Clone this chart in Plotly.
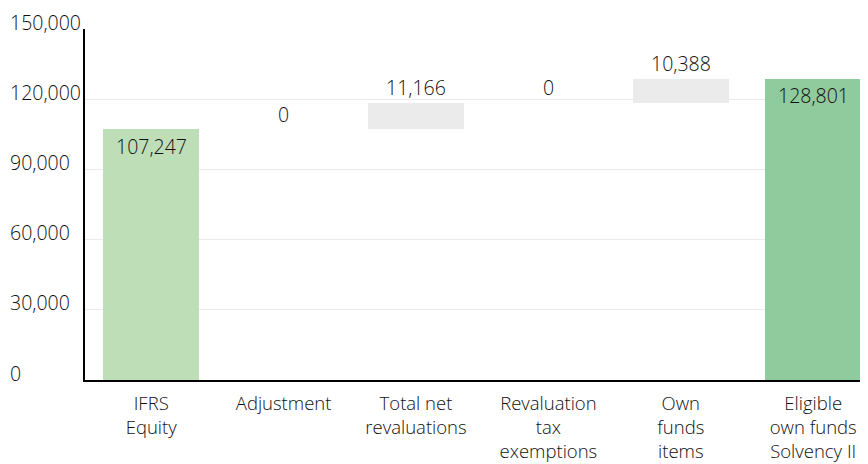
import plotly.graph_objects as go

categories = ["IFRS<br>Equity", "Adjustment", "Total net<br>revaluations",
              "Revaluation<br>tax<br>exemptions", "Own<br>funds<br>items",
              "Eligible<br>own funds<br>Solvency II"]
values = [107247, 0, 11166, 0, 10388, 128801]
kinds = ["total", "delta", "delta", "delta", "delta", "total"]
y_ticks = [0, 30000, 60000, 90000, 120000, 150000]
y_tick_labels = ["0", "30,000", "60,000", "90,000", "120,000", "150,000"]

colors = {"first": "#bddeb7", "last": "#8fcb9c", "delta": "#ebebeb"}
FONT = "Open Sans"
FS = 19.5
FS_CAT = 18.5
FW = 350
TXT = "#111111"

bases, heights, bar_colors = [], [], []
running = 0
for i, (v, k) in enumerate(zip(values, kinds)):
    if k == "total":
        bases.append(0)
        heights.append(v)
        running = v
        bar_colors.append(colors["first"] if i == 0 else colors["last"])
    else:
        bases.append(running)
        heights.append(v)
        running += v
        bar_colors.append(colors["delta"])

x_idx = list(range(len(categories)))

fig = go.Figure()
fig.add_trace(go.Bar(
    x=x_idx, y=heights, base=bases, marker=dict(color=bar_colors, line=dict(width=0)),
    width=0.725, hoverinfo="skip",
))

annotations = []
for i, k in enumerate(kinds):
    top = bases[i] + heights[i]
    annotations.append(dict(xref="x", yref="y", x=i, y=top,
                            yshift=(-17 if k == "total" else 15),
                            xanchor="center", yanchor="middle", showarrow=False,
                            text=f"{values[i]:,}",
                            font=dict(family=FONT, size=FS, color=TXT, weight=FW)))
for v, lab in zip(y_ticks, y_tick_labels):
    annotations.append(dict(xref="paper", yref="y", x=0, y=v, xshift=-77, yshift=7,
                            xanchor="left", yanchor="middle", showarrow=False, text=lab,
                            font=dict(family=FONT, size=FS, color=TXT, weight=FW)))

fig.update_layout(
    width=860, height=456,
    margin=dict(l=77, r=0, t=21, b=84, autoexpand=False),
    plot_bgcolor="white", paper_bgcolor="white",
    showlegend=False,
    bargap=0,
    annotations=annotations,
    xaxis=dict(tickmode="array", tickvals=x_idx, ticktext=categories,
               range=[-0.5, 5.414], showgrid=False, zeroline=False,
               showline=True, linecolor="black", linewidth=2, automargin=False,
               tickfont=dict(family=FONT, size=FS_CAT, color=TXT, weight=FW), ticks="",
               ticklabelstandoff=6),
    yaxis=dict(range=[0, 150000], tickvals=y_ticks, showticklabels=False,
               showgrid=True, gridcolor="#ebebeb", gridwidth=1, zeroline=False,
               automargin=False,
               showline=True, linecolor="black", linewidth=2, ticks=""),
)

fig.write_html("out.html")
